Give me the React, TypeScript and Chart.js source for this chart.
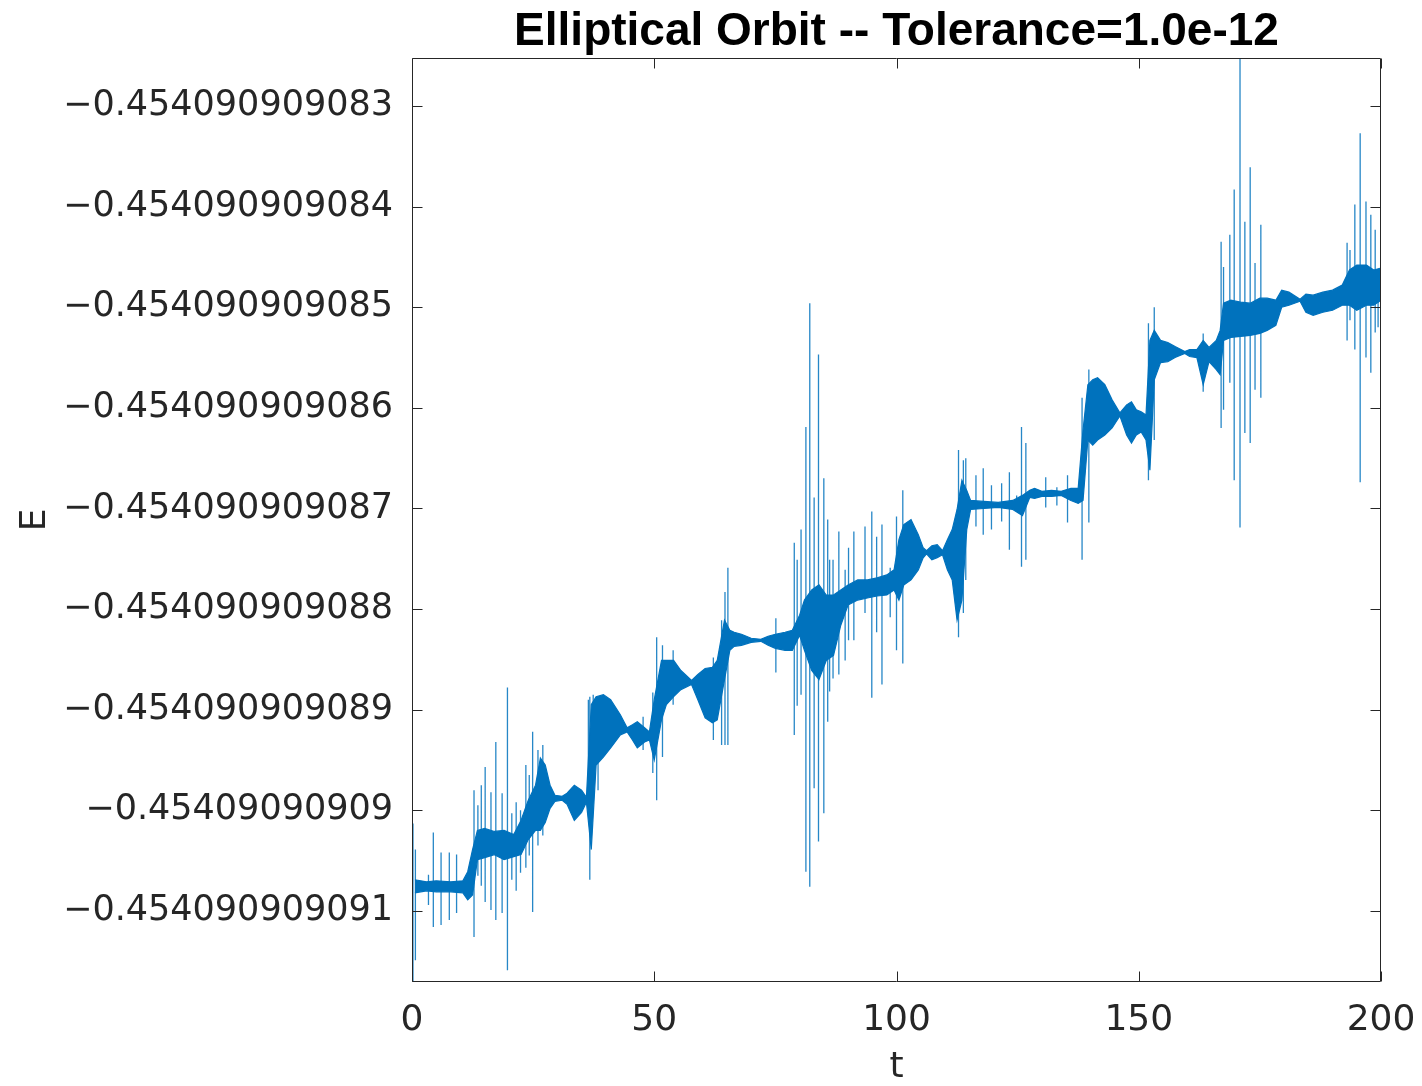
import React, { useEffect, useRef } from "react";
import { Chart, registerables } from "chart.js";

Chart.register(...registerables);

// Energy values are stored as offsets from E_BASE, in units of 1e-12:
// E = -0.454090909 + value * 1e-12
const E_BASE_LABEL = "\u22120.454090909";

// Envelope of the dense oscillation band (time, upper edge, lower edge)
const bandT = [
  0.6, 3, 5, 8, 10.5, 11.5, 12.5, 13.5, 15, 17,
  19, 21, 22.5, 24, 25.5, 26.5, 27.5, 28.5, 29.5, 31,
  32, 33.5, 35, 36, 37, 38, 39.5, 41, 43, 44.4,
  45.5, 46.5, 48, 49, 50, 51.5, 52.5, 54, 55.5, 57.7,
  59, 60.5, 62, 63, 64.5, 65.6, 66.5, 68, 70, 72,
  73.5, 75, 77, 78.5, 80, 81, 82.5, 84, 85.5, 87,
  88.5, 90, 92, 94, 96, 98, 99.5, 100.5, 101.5, 103,
  104.5, 105.5, 106.2, 107.3, 108.4, 109.5, 110.5, 111.5, 112.5, 113.5,
  114.5, 115.3, 118, 121, 124, 126, 127.5, 128.5, 130, 132,
  134, 136, 137.5, 138.5, 139.5, 140.5, 141.5, 143, 144.5, 146.1,
  147.5, 148.5, 149.5, 150.5, 151.5, 152.3, 153.2, 154.5, 156, 157.5,
  159.5, 160.5, 162, 163.3, 164.5, 166, 166.8, 167.5, 169, 171,
  173, 175, 176.5, 178.3, 179.5, 181, 183.3, 184.5, 186, 188,
  190, 192, 193.5, 195, 197, 198.5, 200,
];

const bandHigh = [
  -90.69, -90.71, -90.70, -90.71, -90.70, -90.61, -90.39, -90.20, -90.18, -90.21,
  -90.20, -90.24, -90.10, -89.90, -89.75, -89.48, -89.55, -89.75, -89.85, -89.86,
  -89.83, -89.75, -89.80, -89.87, -88.95, -88.87, -88.85, -88.90, -89.05, -89.18,
  -89.15, -89.12, -89.18, -89.22, -88.90, -88.51, -88.51, -88.51, -88.61, -88.71,
  -88.65, -88.59, -88.58, -88.51, -88.11, -88.21, -88.23, -88.25, -88.29, -88.30,
  -88.27, -88.25, -88.23, -88.21, -88.06, -87.91, -87.81, -87.76, -87.86, -87.86,
  -87.81, -87.76, -87.71, -87.71, -87.69, -87.66, -87.61, -87.31, -87.16, -87.11,
  -87.26, -87.39, -87.42, -87.37, -87.36, -87.42, -87.31, -87.21, -87.01, -86.72,
  -86.82, -86.92, -86.93, -86.94, -86.92, -86.87, -86.82, -86.80, -86.83, -86.82,
  -86.83, -86.80, -86.80, -86.22, -85.77, -85.72, -85.70, -85.77, -85.92, -86.05,
  -85.97, -85.94, -86.02, -86.04, -86.07, -85.33, -85.23, -85.33, -85.35, -85.39,
  -85.44, -85.42, -85.42, -85.33, -85.40, -85.33, -85.23, -84.96, -84.93, -84.95,
  -84.96, -84.91, -84.91, -84.93, -84.83, -84.85, -84.92, -84.87, -84.88, -84.85,
  -84.83, -84.78, -84.63, -84.58, -84.58, -84.63, -84.61,
];

const bandLow = [
  -90.82, -90.80, -90.81, -90.81, -90.82, -90.89, -90.84, -90.49, -90.47, -90.44,
  -90.49, -90.46, -90.44, -90.29, -90.20, -90.20, -90.12, -89.98, -89.91, -89.90,
  -89.94, -90.10, -90.02, -89.92, -90.39, -89.55, -89.47, -89.38, -89.25, -89.22,
  -89.30, -89.38, -89.32, -89.30, -89.50, -89.10, -88.95, -88.87, -88.80, -88.75,
  -88.90, -89.08, -89.13, -89.10, -88.70, -88.41, -88.37, -88.36, -88.33, -88.32,
  -88.36, -88.39, -88.41, -88.41, -88.26, -88.41, -88.61, -88.70, -88.51, -88.46,
  -88.16, -87.96, -87.91, -87.89, -87.87, -87.86, -87.81, -87.91, -87.76, -87.71,
  -87.61, -87.49, -87.45, -87.51, -87.49, -87.46, -87.61, -87.71, -88.11, -87.91,
  -87.21, -87.01, -87.00, -86.99, -87.01, -87.07, -86.89, -86.90, -86.88, -86.88,
  -86.87, -86.92, -86.95, -86.92, -86.32, -86.37, -86.32, -86.27, -86.20, -86.08,
  -86.27, -86.35, -86.27, -86.24, -86.32, -86.62, -85.72, -85.55, -85.54, -85.50,
  -85.46, -85.49, -85.50, -85.77, -85.54, -85.62, -85.67, -85.33, -85.30, -85.29,
  -85.28, -85.26, -85.23, -85.18, -85.00, -84.98, -84.94, -85.05, -85.08, -85.05,
  -85.03, -84.98, -84.98, -85.03, -84.98, -84.98, -84.93,
];

// Isolated large oscillation swings (time, top, bottom)
const spikeT = [
  0.2, 0.7, 3.4, 4.4, 6.0, 7.7, 9.2, 12.8, 13.6, 14.3,
  15.1, 16.3, 17.3, 18.6, 19.7, 20.6, 21.5, 22.4, 23.5, 24.2,
  24.9, 26.0, 27.0, 36.4, 36.7, 37.4, 38.4, 47.7, 49.7, 50.5,
  51.7, 53.9, 62.2, 63.9, 64.6, 65.2, 75.1, 78.9, 79.5, 80.3,
  81.3, 82.1, 83.0, 83.9, 85.0, 85.8, 86.2, 86.9, 88.1, 89.4,
  90.1, 91.2, 93.5, 94.9, 95.9, 97.0, 98.7, 100.0, 101.3, 112.8,
  113.8, 114.3, 116.4, 117.9, 119.6, 121.7, 123.3, 124.8, 125.8, 126.7,
  130.8, 133.1, 135.3, 138.3, 139.7, 152.0, 153.2, 163.3, 167.0, 167.5,
  168.8, 169.7, 170.9, 171.9, 173.0, 174.0, 175.2, 193.0, 193.6, 194.6,
  195.7, 196.9, 197.9, 198.8, 199.4,
];

const spikeHigh = [
  -90.13, -90.39, -90.64, -90.22, -90.42, -90.42, -90.44, -89.80, -89.95, -89.75,
  -89.57, -89.82, -89.32, -89.83, -88.78, -90.03, -89.92, -90.00, -89.55, -89.65,
  -89.22, -89.40, -89.35, -88.90, -88.87, -88.85, -88.87, -89.07, -88.83, -88.28,
  -88.36, -88.41, -88.48, -88.11, -87.83, -87.59, -88.09, -87.34, -87.51, -87.21,
  -86.19, -84.96, -86.89, -85.47, -86.70, -87.11, -87.51, -87.51, -87.23, -87.61,
  -87.39, -87.23, -87.18, -87.03, -87.28, -87.16, -87.59, -87.08, -86.82, -86.42,
  -86.52, -86.50, -86.67, -86.60, -86.77, -86.75, -86.64, -86.87, -86.19, -86.35,
  -86.69, -86.79, -86.67, -85.90, -85.62, -85.16, -85.00, -85.26, -84.35, -84.60,
  -84.28, -83.83, -82.30, -84.15, -83.61, -84.56, -84.18, -84.36, -84.43, -83.98,
  -83.27, -83.95, -84.08, -84.23, -84.73,
];

const spikeLow = [
  -92.00, -91.49, -90.94, -91.16, -91.14, -91.09, -91.02, -91.26, -90.65, -90.75,
  -90.91, -90.99, -91.09, -91.02, -91.59, -90.69, -90.80, -90.62, -90.57, -90.45,
  -91.01, -90.35, -90.25, -89.90, -90.69, -89.87, -89.80, -89.40, -89.63, -89.90,
  -89.47, -88.95, -89.30, -89.35, -89.35, -89.35, -88.63, -89.25, -88.96, -88.85,
  -90.61, -90.76, -89.78, -90.31, -90.03, -89.12, -88.82, -88.69, -88.65, -88.51,
  -88.31, -88.31, -88.04, -88.88, -88.23, -88.75, -88.08, -88.41, -88.54, -88.28,
  -88.04, -87.71, -87.18, -87.26, -87.21, -87.13, -87.41, -87.03, -87.58, -87.51,
  -86.99, -86.97, -87.14, -87.51, -87.14, -86.72, -86.32, -85.84, -86.20, -86.02,
  -85.75, -86.72, -87.19, -86.25, -86.35, -85.82, -85.90, -85.33, -85.13, -85.42,
  -86.74, -85.50, -85.65, -85.25, -85.20,
];

const xTicks = [0, 50, 100, 150, 200];
const yTicks = [-83, -84, -85, -86, -87, -88, -89, -90, -91];
const X_MIN = 0;
const X_MAX = 200;
const Y_MIN = -91.706;
const Y_MAX = -82.523;

const TITLE = "Elliptical Orbit -- Tolerance=1.0e-12";
const X_LABEL = "t";
const Y_LABEL = "E";

const BLUE = "#0072BD";
const SPIKE_BLUE = "rgba(0,114,189,0.85)";
const AXIS = "#262626";
const FONT = "'DejaVu Sans', sans-serif";

function formatE(v: number): string {
  const n = Math.round(-v);
  let s = E_BASE_LABEL + String(n).padStart(3, "0");
  s = s.replace(/0+$/, "");
  return s;
}

const framePlugin = {
  id: "matlabFrame",
  afterDraw(chart: any) {
    const { ctx, chartArea: a, scales } = chart;
    const xs = scales.x;
    const ys = scales.y;
    ctx.save();
    ctx.strokeStyle = AXIS;
    ctx.lineWidth = 1;
    const L = Math.round(a.left) + 0.5;
    const R = Math.round(a.right) - 0.5;
    const T = Math.round(a.top) + 0.5;
    const B = Math.round(a.bottom) - 0.5;
    ctx.beginPath();
    ctx.rect(L, T, R - L, B - T);
    ctx.stroke();
    const tl = 10;
    ctx.beginPath();
    for (const v of yTicks) {
      const py = Math.round(ys.getPixelForValue(v)) + 0.5;
      ctx.moveTo(L, py);
      ctx.lineTo(L + tl, py);
      ctx.moveTo(R, py);
      ctx.lineTo(R - tl, py);
    }
    for (const v of xTicks) {
      const px = Math.round(xs.getPixelForValue(v)) + 0.5;
      ctx.moveTo(px, B);
      ctx.lineTo(px, B - tl);
      ctx.moveTo(px, T);
      ctx.lineTo(px, T + tl);
    }
    ctx.stroke();

    // title
    ctx.fillStyle = "#000000";
    ctx.font = "bold 46px 'Liberation Sans', sans-serif";
    ctx.textAlign = "center";
    ctx.textBaseline = "alphabetic";
    ctx.fillText(TITLE, (a.left + a.right) / 2, 45);

    // axis labels
    ctx.fillStyle = AXIS;
    ctx.font = "36px " + FONT;
    ctx.textBaseline = "middle";
    ctx.fillText(X_LABEL, (a.left + a.right) / 2, 1068);
    ctx.save();
    ctx.translate(36, (a.top + a.bottom) / 2);
    ctx.rotate(-Math.PI / 2);
    ctx.fillText(Y_LABEL, 0, 0);
    ctx.restore();
    ctx.restore();
  },
};

export default function App() {
  const ref = useRef<HTMLCanvasElement>(null);

  useEffect(() => {
    const canvas = ref.current;
    if (!canvas) return;

    const upper = bandT.map((t, i) => ({ x: t, y: bandHigh[i] }));
    const lower = bandT.map((t, i) => ({ x: t, y: bandLow[i] }));
    const spikes: { x: number; y: number | null }[] = [];
    spikeT.forEach((t, i) => {
      spikes.push({ x: t, y: spikeHigh[i] });
      spikes.push({ x: t, y: spikeLow[i] });
      spikes.push({ x: t, y: null });
    });

    const chart = new Chart(canvas, {
      type: "line",
      data: {
        datasets: [
          {
            data: upper,
            borderColor: BLUE,
            borderWidth: 1.2,
            pointRadius: 0,
            fill: false,
            tension: 0,
          },
          {
            data: lower,
            borderColor: BLUE,
            borderWidth: 1.2,
            pointRadius: 0,
            backgroundColor: BLUE,
            fill: "-1",
            tension: 0,
          },
          {
            data: spikes as any,
            borderColor: SPIKE_BLUE,
            borderWidth: 1.3,
            pointRadius: 0,
            fill: false,
            spanGaps: false,
            tension: 0,
          },
        ],
      },
      options: {
        responsive: false,
        animation: false,
        events: [],
        layout: { padding: { top: 58, right: 41, left: 0, bottom: 0 } },
        plugins: {
          legend: { display: false },
          tooltip: { enabled: false },
          title: { display: false },
        },
        scales: {
          x: {
            type: "linear",
            min: X_MIN,
            max: X_MAX,
            grid: { display: false, drawTicks: false },
            border: { display: false },
            afterBuildTicks: (s: any) => {
              s.ticks = xTicks.map((v) => ({ value: v }));
            },
            afterFit: (s: any) => {
              s.height = 104;
              s.paddingLeft = 0;
              s.paddingRight = 0;
            },
            ticks: {
              font: { family: FONT, size: 36 },
              color: AXIS,
              padding: 17,
              maxRotation: 0,
              autoSkip: false,
              callback: (v: any) => String(v),
            },
          },
          y: {
            type: "linear",
            min: Y_MIN,
            max: Y_MAX,
            grid: { display: false, drawTicks: false },
            border: { display: false },
            afterBuildTicks: (s: any) => {
              s.ticks = yTicks.map((v) => ({ value: v }));
            },
            afterFit: (s: any) => {
              s.width = 412;
              s.paddingTop = 0;
              s.paddingBottom = 0;
            },
            ticks: {
              font: { family: FONT, size: 35 },
              color: AXIS,
              padding: 19,
              autoSkip: false,
              callback: (v: any) => formatE(Number(v)),
            },
          },
        },
      },
      plugins: [framePlugin],
    });

    return () => chart.destroy();
  }, []);

  return (
    <div
      style={{
        position: "absolute",
        left: 0,
        top: 0,
        width: 1422,
        height: 1086,
        background: "#ffffff",
      }}
    >
      <canvas
        ref={ref}
        width={1422}
        height={1086}
        style={{ display: "block", width: 1422, height: 1086 }}
      />
    </div>
  );
}
